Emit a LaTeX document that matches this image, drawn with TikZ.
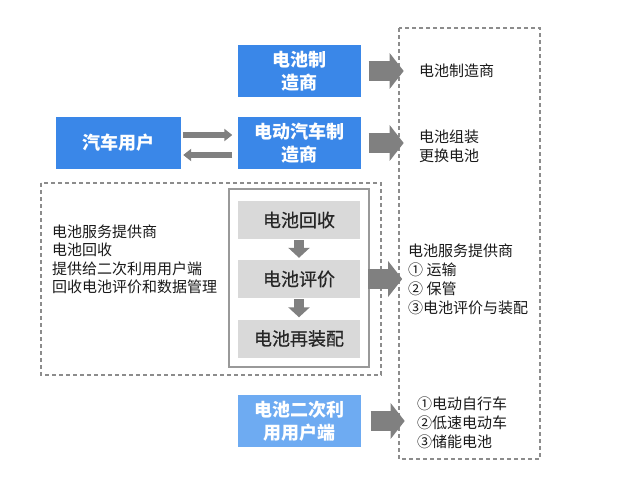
\documentclass[tikz,border=0pt]{standalone}
\usepackage{fontspec}
\setmainfont{Noto Sans CJK SC}
\newfontfamily\medfont{Noto Sans CJK SC}[FakeBold=0.7]
\usetikzlibrary{arrows.meta}
\definecolor{bblue}{HTML}{3A87E8}
\definecolor{lblue}{HTML}{6EABF2}
\definecolor{agray}{HTML}{808080}
\definecolor{bgray}{HTML}{D9D9D9}
\definecolor{dgray}{HTML}{8C8C8C}
\begin{document}
\begin{tikzpicture}[x=1pt,y=-1pt,
  bluebox/.style={fill=bblue,text=white,minimum width=123pt,minimum height=52pt,inner sep=0pt,align=center,font=\bfseries\fontsize{18}{23}\selectfont},
  lightbox/.style={bluebox,fill=lblue},
  graybox/.style={fill=bgray,text=black!85,minimum width=122pt,minimum height=38pt,inner sep=0pt,align=center,font=\medfont\fontsize{18}{22}\selectfont},
  txt/.style={anchor=west,inner sep=0pt,align=left,font=\fontsize{15}{19}\selectfont,text=black!90},
  dashbox/.style={draw=dgray,line width=1.1pt,dash pattern=on 4pt off 3pt},
  bigarrow/.style={draw=agray,line width=20pt,-{Triangle[width=35pt,length=14pt]}},
  thinarrow/.style={draw=agray,line width=6pt,-{Triangle[width=12pt,length=8pt]}},
  downarrow/.style={draw=agray,line width=10pt,-{Triangle[width=21pt,length=10pt]}}
]
\useasboundingbox (0,0) rectangle (640,490);
% dashed frames
\draw[dashbox] (399,28) rectangle (540,459);
\draw[dashbox] (41,183) rectangle (381,375);
\draw[draw=black!40,line width=1.5pt] (229,189) rectangle (369,367);
% blue boxes
\node[bluebox] (bm) at (299,71) {电池制\\造商};
\node[bluebox,minimum width=125pt] (car) at (118.5,143) {汽车用户};
\node[bluebox] (ev) at (299,143) {电动汽车制\\造商};
\node[lightbox] (su) at (299,421) {电池二次利\\用用户端};
% gray boxes
\node[graybox] (g1) at (299,220) {电池回收};
\node[graybox] (g2) at (299,279) {电池评价};
\node[graybox] (g3) at (299,338.5) {电池再装配};
% texts
\node[txt] (t1) at (419,71) {电池制造商};
\node[txt] (t2) at (419,146.5) {电池组装\\更换电池};
\node[txt] (t3) at (408,279) {电池服务提供商\\① 运输\\② 保管\\③电池评价与装配};
\node[txt] (t4) at (417,423) {①电动自行车\\②低速电动车\\③储能电池};
\node[txt,font=\fontsize{15}{18.4}\selectfont] (t5) at (52,259.5) {电池服务提供商\\电池回收\\提供给二次利用用户端\\回收电池评价和数据管理};
% arrows
\draw[thinarrow] ([xshift=2pt,yshift=8pt]car.east) -- ([xshift=-5pt,yshift=8pt]ev.west);
\draw[thinarrow] ([xshift=-5pt,yshift=-12pt]ev.west) -- ([xshift=2pt,yshift=-12pt]car.east);
\draw[bigarrow] ([xshift=8pt,yshift=0pt]bm.east) -- ([xshift=43pt]bm.east);
\draw[bigarrow] ([xshift=8pt]ev.east) -- ([xshift=43pt]ev.east);
\draw[bigarrow] ([xshift=8pt]g2.east) -- ([xshift=42pt]g2.east);
\draw[bigarrow] ([xshift=10pt]su.east) -- ([xshift=44pt]su.east);
\draw[downarrow] ([yshift=-1pt]g1.south) -- ([yshift=2pt]g2.north);
\draw[downarrow] ([yshift=-1pt]g2.south) -- ([yshift=2pt]g3.north);
\end{tikzpicture}
\end{document}
